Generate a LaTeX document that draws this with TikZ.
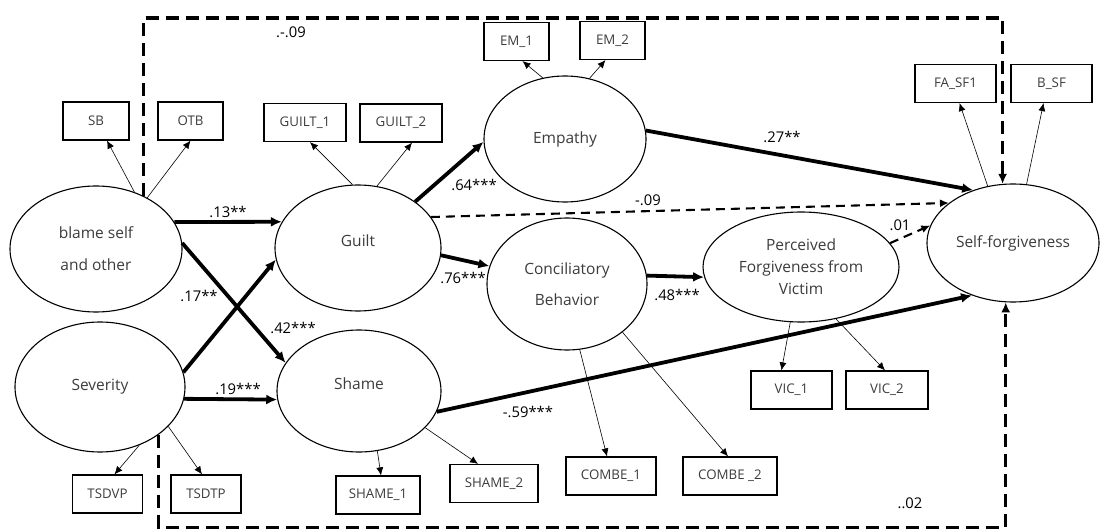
\documentclass[tikz,border=0pt]{standalone}
\usepackage{fontspec}
\setmainfont{Open Sans}
\usetikzlibrary{shapes.geometric,arrows.meta,calc}
\definecolor{txtgray}{RGB}{60,60,60}
\newcommand\latfont{\fontsize{15.5}{32}\selectfont}
\newcommand\obsfont{\fontsize{13.3}{15}\selectfont}
\newcommand\coeffont{\fontsize{14.8}{16}\selectfont}
\tikzset{
  lat/.style={ellipse, draw, line width=1.1pt, inner sep=0pt, font=\latfont, text=txtgray, align=center},
  obs/.style={rectangle, draw, line width=1.2pt, inner sep=0pt, font=\obsfont, text=txtgray, minimum height=38pt},
  sig/.style={line width=3.8pt, -{Latex[length=11pt,width=10pt]}},
  loadarr/.style={line width=0.6pt, -{Latex[length=8pt,width=7pt]}},
  nsarr/.style={line width=2.1pt, dash pattern=on 9pt off 6pt, -{Latex[length=9pt,width=8pt]}},
  covarr/.style={line width=3.2pt, dash pattern=on 13pt off 7pt, -{Latex[length=10pt,width=9pt]}},
  coef/.style={font=\coeffont, inner sep=0pt, text=black},
}
\begin{document}
\begin{tikzpicture}[x=1pt,y=-1pt]
\useasboundingbox (0,0) rectangle (1105,529);

% latent variables
\node[lat, minimum width=172pt, minimum height=126pt] (blame) at (96,249) {blame self\\and other};
\node[lat, minimum width=170pt, minimum height=130pt] (sev) at (100,387) {Severity};
\node[lat, minimum width=166pt, minimum height=126pt, text depth=15pt] (guilt) at (358,248) {Guilt};
\node[lat, minimum width=164pt, minimum height=122pt, text depth=15pt] (shame) at (359,391) {Shame};
\node[lat, minimum width=162pt, minimum height=126pt] (emp) at (565,139) {Empathy};
\node[lat, minimum width=160pt, minimum height=132pt, font={\fontsize{15.5}{31}\selectfont}] (conc) at (567,284) {Conciliatory\\Behavior};
\node[lat, minimum width=196pt, minimum height=110pt, font={\fontsize{15.5}{22}\selectfont}] (perc) at (801,267) {Perceived\\Forgiveness from\\Victim};
\node[lat, minimum width=172pt, minimum height=118pt] (sf) at (1013,243) {Self-forgiveness};

% observed variables
\node[obs, minimum width=66pt] (sb) at (96,121) {SB};
\node[obs, minimum width=65pt] (otb) at (190.5,121) {OTB};
\node[obs, minimum width=82pt] (g1) at (305,122.5) {GUILT\_1};
\node[obs, minimum width=82pt] (g2) at (401,123) {GUILT\_2};
\node[obs, minimum width=65pt] (em1) at (516.5,41.5) {EM\_1};
\node[obs, minimum width=65pt] (em2) at (612.5,40.5) {EM\_2};
\node[obs, minimum width=81pt] (fa) at (955.5,83.5) {FA\_SF1};
\node[obs, minimum width=81pt] (bsf) at (1051.5,83.5) {B\_SF};
\node[obs, minimum width=81pt] (vic1) at (791.5,390) {VIC\_1};
\node[obs, minimum width=82pt] (vic2) at (887,390) {VIC\_2};
\node[obs, minimum width=70pt] (tsdvp) at (107.5,494) {TSDVP};
\node[obs, minimum width=70pt] (tsdtp) at (206,494) {TSDTP};
\node[obs, minimum width=84pt] (sh1) at (378,495) {SHAME\_1};
\node[obs, minimum width=88pt] (sh2) at (494,483.5) {SHAME\_2};
\node[obs, minimum width=90pt] (cb1) at (611,476) {COMBE\_1};
\node[obs, minimum width=94pt] (cb2) at (730,476) {COMBE \_2};

% structural paths
\draw[sig] (blame.19) -- (guilt.161);
\draw[sig] (blame.4) -- (shame.159);
\draw[sig] (sev.10) -- (guilt.188);
\draw[sig] (sev.-8) -- (shame.186);
\draw[sig] (guilt.39) -- (emp.182);
\draw[sig] (guilt.-5) -- (conc.167);
\draw[nsarr] (guilt.23) -- (sf.148);
\draw[sig] (emp.6) -- (sf.127);
\draw[sig] (conc.6) -- (perc.186);
\draw[nsarr] (perc.15) -- (sf.168);
\draw[sig] (shame.-15) -- (sf.-128);

% big dashed paths
\draw[covarr] (blame.48) -- ++(0,-178) -| (sf.100);
\draw[covarr] (sev.-39) -- ++(0,92.7) -| (sf.-97);

% loadings
\draw[loadarr] (blame.56) -- ([xshift=11pt]sb.south);
\draw[loadarr] (blame.45) -- (otb.south);
\draw[loadarr] (guilt.95) -- ([xshift=5pt]g1.south);
\draw[loadarr] (guilt.73) -- ([xshift=11pt]g2.south);
\draw[loadarr] (emp.110) -- ([xshift=6pt]em1.south);
\draw[loadarr] (emp.68) -- ([xshift=-7pt]em2.south);
\draw[loadarr] (sf.114) -- ([xshift=4pt]fa.south);
\draw[loadarr] (sf.77) -- ([xshift=-8pt]bsf.south);
\draw[loadarr] (perc.-101) -- ([xshift=-10pt]vic1.north);
\draw[loadarr] (perc.-56) -- ([xshift=-2pt]vic2.north);
\draw[loadarr] (conc.-79) -- ([xshift=-4pt]cb1.north);
\draw[loadarr] (conc.-41) -- ([xshift=-2pt]cb2.north);
\draw[loadarr] (shame.-73) -- ([xshift=3pt]sh1.north);
\draw[loadarr] (shame.-29) -- ([xshift=-16pt]sh2.north);
\draw[loadarr] (sev.-56) -- ([xshift=7pt]tsdvp.north);
\draw[loadarr] (sev.-30) -- ([xshift=-4pt]tsdtp.north);

% coefficients
\node[coef] (c09a) at (291,32) {.-.09};
\node[coef] (c13) at (228,212) {.13**};
\node[coef] (c17) at (199,296) {.17**};
\node[coef] (c42) at (293,328) {.42***};
\node[coef] (c19) at (238,389) {.19***};
\node[coef] (c64) at (474,185) {.64***};
\node[coef] (c76) at (463,278) {.76***};
\node[coef] (c09b) at (648,200) {-.09};
\node[coef] (c27) at (782,137) {.27**};
\node[coef] (c48) at (677,295) {.48***};
\node[coef] (c01) at (900,225) {.01};
\node[coef] (c59) at (528,412) {-.59***};
\node[coef] (c02) at (910,503) {..02};
\end{tikzpicture}
\end{document}
